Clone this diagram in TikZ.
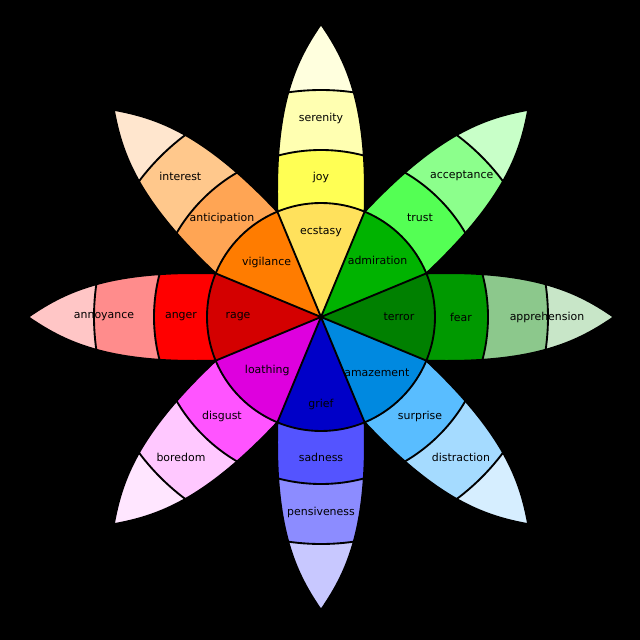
\documentclass[tikz,border=0pt]{standalone}
\usepackage{fontspec}
\setmainfont{DejaVu Sans}
\definecolor{ecstasyc}{RGB}{255,225,92}
\definecolor{joyc}{RGB}{255,255,84}
\definecolor{serenityc}{RGB}{255,255,177}
\definecolor{joytip}{RGB}{255,255,222}
\definecolor{admirationc}{RGB}{0,179,0}
\definecolor{trustc}{RGB}{84,255,84}
\definecolor{acceptancec}{RGB}{140,255,140}
\definecolor{trusttip}{RGB}{200,255,200}
\definecolor{terrorc}{RGB}{0,128,0}
\definecolor{fearc}{RGB}{0,153,0}
\definecolor{apprehensionc}{RGB}{140,200,140}
\definecolor{feartip}{RGB}{200,230,200}
\definecolor{amazementc}{RGB}{0,137,224}
\definecolor{surprisec}{RGB}{89,189,255}
\definecolor{distractionc}{RGB}{165,219,255}
\definecolor{surprisetip}{RGB}{214,238,255}
\definecolor{griefc}{RGB}{0,0,200}
\definecolor{sadnessc}{RGB}{84,84,255}
\definecolor{pensivenessc}{RGB}{140,140,255}
\definecolor{sadnesstip}{RGB}{200,200,255}
\definecolor{loathingc}{RGB}{222,0,222}
\definecolor{disgustc}{RGB}{255,84,255}
\definecolor{boredomc}{RGB}{255,200,255}
\definecolor{disgusttip}{RGB}{255,230,255}
\definecolor{ragec}{RGB}{212,0,0}
\definecolor{angerc}{RGB}{255,0,0}
\definecolor{annoyancec}{RGB}{255,140,140}
\definecolor{angertip}{RGB}{255,198,198}
\definecolor{vigilancec}{RGB}{255,124,0}
\definecolor{anticipationc}{RGB}{255,165,84}
\definecolor{interestc}{RGB}{255,200,140}
\definecolor{anticipationtip}{RGB}{255,230,206}
\tikzset{
  petaledge/.style={line width=1.4pt,line join=round},
  emolabel/.style={font=\fontsize{8.2}{9.5}\selectfont,text=black,inner sep=1pt}
}

\begin{document}
\begin{tikzpicture}[x=0.75pt,y=0.75pt]
  \fill[black] (-321,-323) rectangle (319,317);
  \useasboundingbox (-321,-323) rectangle (319,317);

  \foreach \ang/\cmid/\cout/\ctip/\rout/\lmid/\lout in {
      90/joyc/serenityc/joytip/199/joy/serenity,
      45/trustc/acceptancec/trusttip/199/trust/acceptance,
      0/fearc/apprehensionc/feartip/226/fear/apprehension,
      -45/surprisec/distractionc/surprisetip/198/surprise/distraction,
      -90/sadnessc/pensivenessc/sadnesstip/195/sadness/pensiveness,
      -135/disgustc/boredomc/disgusttip/198/disgust/boredom,
      180/angerc/annoyancec/angertip/217/anger/annoyance,
      135/anticipationc/interestc/anticipationtip/199/anticipation/interest}{
    \begin{scope}[rotate=\ang-90]
      \begin{scope}
        \clip (43.6,105) .. controls (47,215) and (24,258) .. (0,293)
          .. controls (-24,258) and (-47,215) .. (-43.6,105) -- cycle;
        \fill[\ctip] (-60,90) rectangle (60,300);
        \fill[\cout] (0,0) circle (227);
        \fill[\cmid] (0,0) circle (167);
        \draw[petaledge] (0,0) circle (167) (0,0) circle (227);
      \end{scope}
      \draw[petaledge] (43.6,105) .. controls (47,215) and (24,258) .. (0,293)
        .. controls (-24,258) and (-47,215) .. (-43.6,105);
    \end{scope}
    \node[emolabel] (\lmid) at (\ang:140) {\lmid};
    \node[emolabel] (\lout) at (\ang:\rout) {\lout};
  }

  \foreach \ang/\cin in {90/ecstasyc,45/admirationc,0/terrorc,-45/amazementc,
      -90/griefc,-135/loathingc,180/ragec,135/vigilancec}
    \fill[\cin] (0,0) -- (\ang-22.5:114) arc[start angle=\ang-22.5,end angle=\ang+22.5,radius=114] -- cycle;
  \foreach \ang in {22.5,67.5,...,337.5}
    \draw[petaledge] (0,0) -- (\ang:114);
  \draw[petaledge] (0,0) circle (114);

  \foreach \ang/\rin/\lin in {90/85/ecstasy,45/80/admiration,0/78/terror,-45/79/amazement,
      -90/87/grief,-135/76/loathing,180/83/rage,135/77/vigilance}
    \node[emolabel] (\lin) at (\ang:\rin) {\lin};
\end{tikzpicture}
\end{document}
